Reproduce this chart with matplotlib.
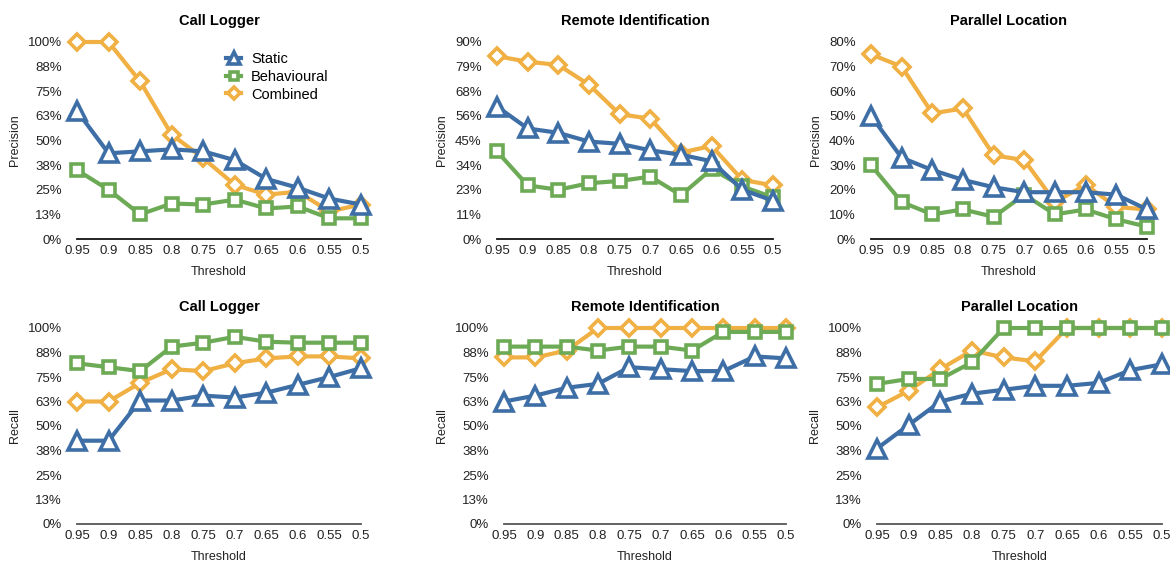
import matplotlib
matplotlib.use("Agg")
import matplotlib.pyplot as plt

plt.rcParams['font.family'] = ['Liberation Sans', 'DejaVu Sans']

thresholds = ["0.95", "0.9", "0.85", "0.8", "0.75", "0.7", "0.65", "0.6", "0.55", "0.5"]
series_names = ["Static", "Behavioural", "Combined"]

# Precision (%)
cl_prec_static = [65, 43.5, 44.5, 45.5, 44.5, 40, 30.5, 26, 20.5, 17.5]
cl_prec_behav = [35, 25, 12.5, 18, 17.5, 20, 15.5, 16.5, 10.5, 10.5]
cl_prec_comb = [100, 100, 80, 53, 41, 27.5, 22.5, 24, 14, 17.5]

ri_prec_static = [60.5, 50.5, 48.5, 44.5, 43.5, 40.5, 38.5, 35.5, 22.5, 17.5]
ri_prec_behav = [40, 24.5, 22.5, 25.5, 26.5, 28.5, 20, 32, 24, 19]
ri_prec_comb = [83.5, 81, 79.5, 70.5, 57, 55, 39.5, 42.5, 27, 24.5]

pl_prec_static = [50, 33, 28, 24, 21, 19, 19, 19, 18, 12]
pl_prec_behav = [30, 15, 10, 12, 9, 18, 10, 12, 8, 5]
pl_prec_comb = [75, 70, 51, 53, 34, 32, 15, 22, 13, 12]

# Recall (%)
cl_rec_static = [42.5, 42.5, 63, 63, 65.5, 64.5, 67, 71, 75, 79.5]
cl_rec_behav = [82, 80, 78, 90.5, 92.5, 95.5, 93, 92.5, 92.5, 92.5]
cl_rec_comb = [62.5, 62.5, 72, 79, 78, 82, 84.5, 85.5, 85.5, 84.5]

ri_rec_static = [62.5, 65.5, 69.5, 71.5, 80, 79, 78, 78, 85.5, 84.5]
ri_rec_behav = [90.5, 90.5, 90.5, 88.5, 90.5, 90.5, 88.5, 98, 98, 98]
ri_rec_comb = [85, 85, 88.5, 100, 100, 100, 100, 100, 100, 100]

pl_rec_static = [38.5, 50.5, 62.5, 66.5, 68.5, 70.5, 70.5, 72, 78.5, 81.5]
pl_rec_behav = [71.5, 74, 74, 82.5, 100, 100, 100, 100, 100, 100]
pl_rec_comb = [59.5, 68, 79, 88.5, 85, 83, 100, 100, 100, 100]

titles = ["Call Logger", "Remote Identification", "Parallel Location"]

ticks_100 = [0, 12.5, 25, 37.5, 50, 62.5, 75, 87.5, 100]
labels_100 = ["0%", "13%", "25%", "38%", "50%", "63%", "75%", "88%", "100%"]
ticks_90 = [0, 11.25, 22.5, 33.75, 45, 56.25, 67.5, 78.75, 90]
labels_90 = ["0%", "11%", "23%", "34%", "45%", "56%", "68%", "79%", "90%"]
ticks_80 = [0, 10, 20, 30, 40, 50, 60, 70, 80]
labels_80 = ["0%", "10%", "20%", "30%", "40%", "50%", "60%", "70%", "80%"]

BLUE = "#3E6EA6"
GREEN = "#6DAA55"
ORANGE = "#F0B043"

W, H = 1170, 564
fig = plt.figure(figsize=(W / 100, H / 100), dpi=100)


def add_axes_px(x0, x1, y_top, y_bot):
    return fig.add_axes([x0 / W, (H - y_bot) / H, (x1 - x0) / W, (y_bot - y_top) / H])


top_boxes = [(77, 361), (497, 773), (871, 1147)]
bot_boxes = [(77, 361), (504, 786), (877, 1162)]

prec_data = [
    (cl_prec_static, cl_prec_behav, cl_prec_comb, ticks_100, labels_100),
    (ri_prec_static, ri_prec_behav, ri_prec_comb, ticks_90, labels_90),
    (pl_prec_static, pl_prec_behav, pl_prec_comb, ticks_80, labels_80),
]
rec_data = [
    (cl_rec_static, cl_rec_behav, cl_rec_comb, ticks_100, labels_100),
    (ri_rec_static, ri_rec_behav, ri_rec_comb, ticks_100, labels_100),
    (pl_rec_static, pl_rec_behav, pl_rec_comb, ticks_100, labels_100),
]

xs = list(range(len(thresholds)))


def draw(ax, data, title, ylabel, spine_color):
    s, b, c, ticks, labels = data
    lw = 3.0
    mew = 2.6
    hc, = ax.plot(xs, c, color=ORANGE, lw=lw, marker='D', ms=8.5, mfc='white',
                  mec=ORANGE, mew=mew, clip_on=False, zorder=3, label=series_names[2])
    hb, = ax.plot(xs, b, color=GREEN, lw=lw, marker='s', ms=9, mfc='white',
                  mec=GREEN, mew=mew, clip_on=False, zorder=4, label=series_names[1])
    hs, = ax.plot(xs, s, color=BLUE, lw=lw, marker='^', ms=12.5, mfc='white',
                  mec=BLUE, mew=mew, clip_on=False, zorder=5, label=series_names[0])
    ax.set_xlim(0, len(xs) - 1)
    ax.set_ylim(ticks[0], ticks[-1])
    ax.set_yticks(ticks)
    ax.set_yticklabels(labels)
    ax.set_xticks(xs)
    ax.set_xticklabels(thresholds)
    for sp in ['left', 'right', 'top']:
        ax.spines[sp].set_visible(False)
    ax.spines['bottom'].set_color(spine_color)
    ax.spines['bottom'].set_linewidth(1.3)
    ax.tick_params(axis='y', length=0, pad=11, labelsize=9.5, labelcolor='#222222')
    ax.tick_params(axis='x', length=0, pad=4, labelsize=9.5, labelcolor='#222222')
    ax.set_title(title, fontsize=10.5, fontweight='bold', pad=12)
    ax.set_ylabel(ylabel, fontsize=9, labelpad=5, color='#222222')
    ax.set_xlabel("Threshold", fontsize=9, labelpad=7, color='#222222')
    return hs, hb, hc


for i, (x0, x1) in enumerate(top_boxes):
    ax = add_axes_px(x0, x1, 42, 239)
    h = draw(ax, prec_data[i], titles[i], "Precision", '#111111')
    if i == 0:
        ax.legend(handles=list(h), labels=series_names, loc='upper left',
                  bbox_to_anchor=(0.5, 0.985), frameon=False, fontsize=10.5,
                  handlelength=1.0, handletextpad=0.7, labelspacing=0.25,
                  borderpad=0, markerscale=0.7)

for i, (x0, x1) in enumerate(bot_boxes):
    ax = add_axes_px(x0, x1, 328, 524)
    draw(ax, rec_data[i], titles[i], "Recall", '#555555')

fig.savefig("out.png", dpi=100)
